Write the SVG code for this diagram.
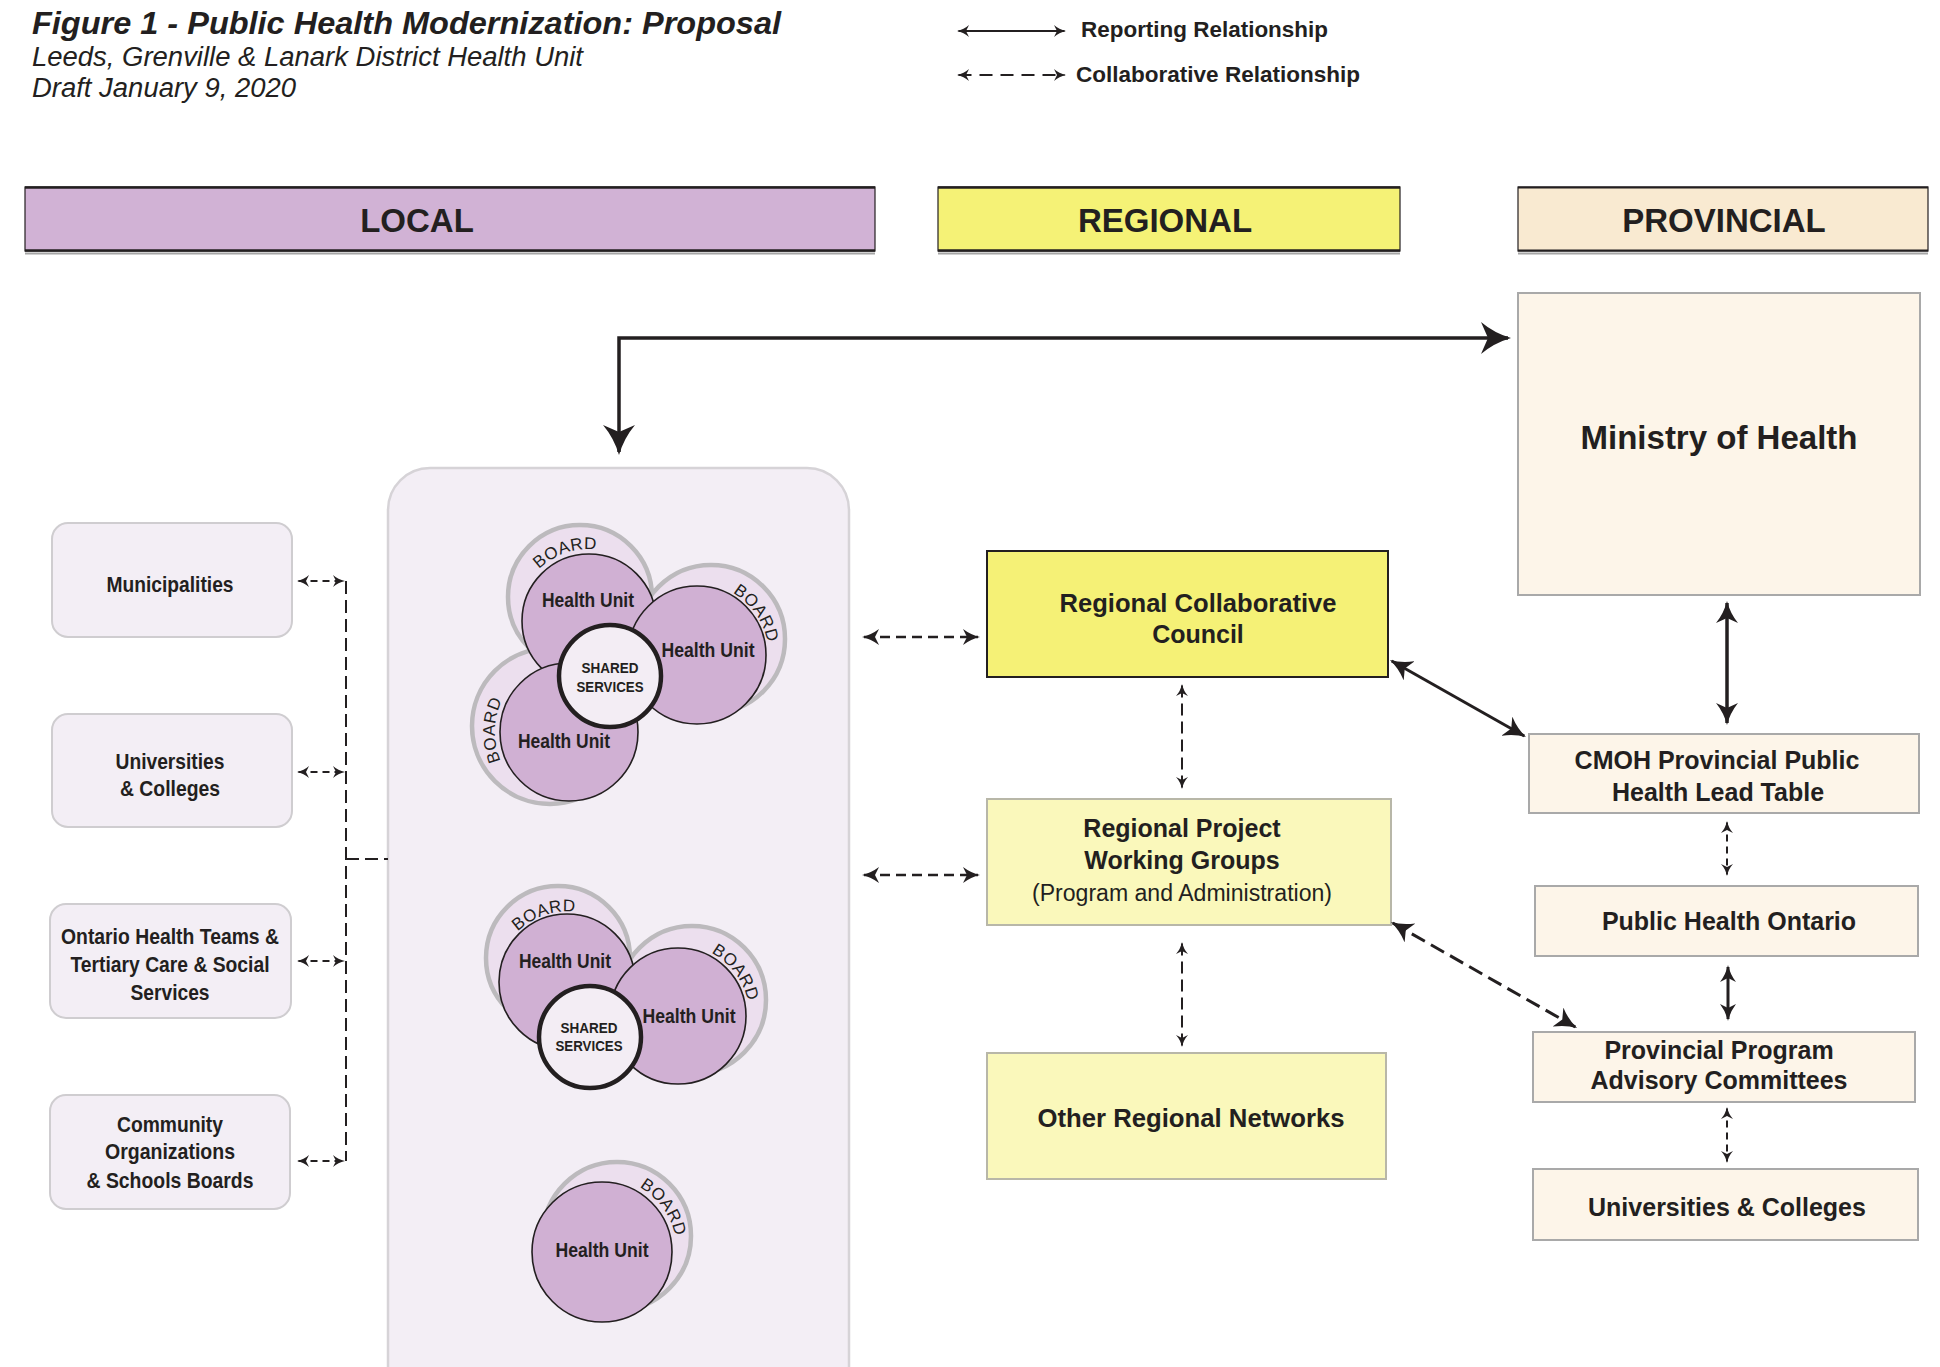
<svg xmlns="http://www.w3.org/2000/svg" width="1940" height="1367" viewBox="0 0 1940 1367">
<style>
text{font-family:"Liberation Sans",Arial,sans-serif;fill:#231f20}
.hdr{font-size:33px;font-weight:bold;text-anchor:middle}
.lbox{fill:#f3eef5;stroke:#cfcdd0;stroke-width:2}
.lt{font-size:22px;font-weight:bold;text-anchor:middle}
.hu{fill:#d0b0d3;stroke:#231f20;stroke-width:1.6}
.bd{fill:#ecdfee;stroke:#bcbabd;stroke-width:4.5}
.ss{fill:#f3edf4;stroke:#231f20;stroke-width:4.5}
.hut{font-size:20px;font-weight:bold;text-anchor:middle}
.sst{font-size:15px;font-weight:bold;text-anchor:middle}
.bdt{font-size:17px;letter-spacing:0.5px}
.pv{fill:#fdf5e9;stroke:#a9a9a9;stroke-width:2}
.pt{font-size:25px;font-weight:bold;text-anchor:middle}
.rg{fill:#faf8bb;stroke:#b8b7a8;stroke-width:2}
.rt{font-size:25px;font-weight:bold;text-anchor:middle}
.ln{fill:none;stroke:#231f20}
.d1{stroke-dasharray:7 5}
.d2{stroke-dasharray:12 6}
.d3{stroke-dasharray:15 7}
.d4{stroke-dasharray:10 6}
</style>
<defs>
<marker id="big" markerUnits="userSpaceOnUse" markerWidth="32" markerHeight="32" refX="27" refY="16" orient="auto-start-reverse"><path d="M0,0 Q13,11 30,16 Q13,21 0,32 L7,16 Z" fill="#231f20"/></marker>
<marker id="lg" markerUnits="userSpaceOnUse" markerWidth="22" markerHeight="22" refX="20" refY="11" orient="auto-start-reverse"><path d="M0,0 Q10,8 22,11 Q10,14 0,22 L5,11 Z" fill="#231f20"/></marker>
<marker id="md" markerUnits="userSpaceOnUse" markerWidth="17" markerHeight="16" refX="15" refY="8" orient="auto-start-reverse"><path d="M0,0 Q8,6 17,8 Q8,10 0,16 L4,8 Z" fill="#231f20"/></marker>
<marker id="sm" markerUnits="userSpaceOnUse" markerWidth="12" markerHeight="12" refX="10.5" refY="6" orient="auto-start-reverse"><path d="M0,0 Q5,4.5 12,6 Q5,7.5 0,12 L3,6 Z" fill="#231f20"/></marker>
<path id="ap1" d="M520.9,644.4 A72,72 0 0 1 657.1,597.6"/>
<path id="ap2" d="M654.6,594.4 A74,74 0 0 1 739.4,715.6"/>
<path id="ap3" d="M567.1,806 A74,74 0 0 1 570.9,658"/>
<path id="ap4" d="M497.9,1005.4 A73,73 0 0 1 636.1,958.6"/>
<path id="ap5" d="M634.1,957.7 A73,73 0 0 1 721.9,1074.3"/>
<path id="ap6" d="M557.9,1191.3 A75,75 0 0 1 646.1,1312.7"/>
</defs>
<rect width="1940" height="1367" fill="#ffffff"/>

<g id="title">
<text x="32" y="34" font-size="31.5" font-weight="bold" font-style="italic" textLength="749" lengthAdjust="spacingAndGlyphs">Figure 1 - Public Health Modernization: Proposal</text>
<text x="32" y="66" font-size="27" font-style="italic" textLength="551" lengthAdjust="spacingAndGlyphs">Leeds, Grenville &amp; Lanark District Health Unit</text>
<text x="32" y="97" font-size="27" font-style="italic" textLength="264" lengthAdjust="spacingAndGlyphs">Draft January 9, 2020</text>
</g>

<g id="legend">
<path class="ln" d="M958.5,31 H1064.5" stroke-width="2" marker-start="url(#sm)" marker-end="url(#sm)"/>
<path class="ln" d="M958.5,75 H1064.5" stroke-width="2" stroke-dasharray="13 8" marker-start="url(#sm)" marker-end="url(#sm)"/>
<text x="1081" y="37" font-size="22" font-weight="bold" textLength="247" lengthAdjust="spacingAndGlyphs">Reporting Relationship</text>
<text x="1076" y="82" font-size="22.5" font-weight="bold" textLength="284" lengthAdjust="spacingAndGlyphs">Collaborative Relationship</text>
</g>

<g id="header-local">
<rect x="25" y="187" width="850" height="64" fill="#d1b2d5" stroke="#231f20" stroke-width="1.2"/>
<line x1="25" y1="187.5" x2="875" y2="187.5" stroke="#231f20" stroke-width="2.5"/>
<line x1="25" y1="250.5" x2="875" y2="250.5" stroke="#231f20" stroke-width="2.5"/>
<line x1="25" y1="253.5" x2="875" y2="253.5" stroke="#a5a5a5" stroke-width="2"/>
<text class="hdr" x="417" y="232">LOCAL</text>
</g>
<g id="header-regional">
<rect x="938" y="187" width="462" height="64" fill="#f5f276" stroke="#231f20" stroke-width="1.2"/>
<line x1="938" y1="187.5" x2="1400" y2="187.5" stroke="#231f20" stroke-width="2.5"/>
<line x1="938" y1="250.5" x2="1400" y2="250.5" stroke="#231f20" stroke-width="2.5"/>
<line x1="938" y1="253.5" x2="1400" y2="253.5" stroke="#a5a5a5" stroke-width="2"/>
<text class="hdr" x="1165" y="232">REGIONAL</text>
</g>
<g id="header-provincial">
<rect x="1518" y="187" width="410" height="64" fill="#f9ead1" stroke="#231f20" stroke-width="1.2"/>
<line x1="1518" y1="187.5" x2="1928" y2="187.5" stroke="#231f20" stroke-width="2"/>
<line x1="1518" y1="250.5" x2="1928" y2="250.5" stroke="#231f20" stroke-width="2"/>
<line x1="1518" y1="253.5" x2="1928" y2="253.5" stroke="#a5a5a5" stroke-width="2"/>
<text class="hdr" x="1724" y="232">PROVINCIAL</text>
</g>

<g id="local-container">
<rect x="388" y="468" width="461" height="960" rx="42" fill="#f3eef5" stroke="#d6d3d7" stroke-width="2.5"/>
</g>

<g id="municipalities">
<rect class="lbox" x="52" y="523" width="240" height="114" rx="16"/>
<text class="lt" x="170" y="592" textLength="127" lengthAdjust="spacingAndGlyphs">Municipalities</text>
</g>
<g id="universities-local">
<rect class="lbox" x="52" y="714" width="240" height="113" rx="16"/>
<text class="lt" x="170" y="769" textLength="109" lengthAdjust="spacingAndGlyphs">Universities</text>
<text class="lt" x="170" y="796" textLength="100" lengthAdjust="spacingAndGlyphs">&amp; Colleges</text>
</g>
<g id="ontario-health-teams">
<rect class="lbox" x="50" y="904" width="241" height="114" rx="16"/>
<text class="lt" x="170" y="944" textLength="218" lengthAdjust="spacingAndGlyphs">Ontario Health Teams &amp;</text>
<text class="lt" x="170" y="972" textLength="199" lengthAdjust="spacingAndGlyphs">Tertiary Care &amp; Social</text>
<text class="lt" x="170" y="1000" textLength="79" lengthAdjust="spacingAndGlyphs">Services</text>
</g>
<g id="community-orgs">
<rect class="lbox" x="50" y="1095" width="240" height="114" rx="16"/>
<text class="lt" x="170" y="1132" textLength="106" lengthAdjust="spacingAndGlyphs">Community</text>
<text class="lt" x="170" y="1159" textLength="130" lengthAdjust="spacingAndGlyphs">Organizations</text>
<text class="lt" x="170" y="1188" textLength="167" lengthAdjust="spacingAndGlyphs">&amp; Schools Boards</text>
</g>

<g id="cluster-three">
<circle class="bd" cx="580" cy="597" r="72"/>
<circle class="bd" cx="711" cy="639" r="74"/>
<circle class="bd" cx="550" cy="726" r="78"/>
<circle class="hu" cx="589" cy="621" r="67"/>
<circle class="hu" cx="697" cy="655" r="69"/>
<circle class="hu" cx="569" cy="732" r="69"/>
<text class="bdt"><textPath href="#ap1" startOffset="50%" text-anchor="middle">BOARD</textPath></text>
<text class="bdt"><textPath href="#ap2" startOffset="50%" text-anchor="middle">BOARD</textPath></text>
<text class="bdt"><textPath href="#ap3" startOffset="50%" text-anchor="middle">BOARD</textPath></text>
<circle class="ss" cx="610" cy="676" r="51"/>
<text class="hut" x="588" y="607" textLength="92" lengthAdjust="spacingAndGlyphs">Health Unit</text>
<text class="hut" x="708" y="657" textLength="93" lengthAdjust="spacingAndGlyphs">Health Unit</text>
<text class="hut" x="564" y="748" textLength="92" lengthAdjust="spacingAndGlyphs">Health Unit</text>
<text class="sst" x="610" y="673" textLength="57" lengthAdjust="spacingAndGlyphs">SHARED</text>
<text class="sst" x="610" y="692" textLength="67" lengthAdjust="spacingAndGlyphs">SERVICES</text>
</g>

<g id="cluster-two">
<circle class="bd" cx="558" cy="958" r="72"/>
<circle class="bd" cx="692" cy="1000" r="74"/>
<circle class="hu" cx="567" cy="982" r="68"/>
<circle class="hu" cx="678" cy="1016" r="68"/>
<text class="bdt"><textPath href="#ap4" startOffset="50%" text-anchor="middle">BOARD</textPath></text>
<text class="bdt"><textPath href="#ap5" startOffset="50%" text-anchor="middle">BOARD</textPath></text>
<circle class="ss" cx="590" cy="1037" r="51"/>
<text class="hut" x="565" y="968" textLength="92" lengthAdjust="spacingAndGlyphs">Health Unit</text>
<text class="hut" x="689" y="1023" textLength="93" lengthAdjust="spacingAndGlyphs">Health Unit</text>
<text class="sst" x="589" y="1033" textLength="57" lengthAdjust="spacingAndGlyphs">SHARED</text>
<text class="sst" x="589" y="1051" textLength="67" lengthAdjust="spacingAndGlyphs">SERVICES</text>
</g>

<g id="cluster-single">
<circle class="bd" cx="617" cy="1236" r="74"/>
<circle class="hu" cx="602" cy="1252" r="70"/>
<text class="bdt"><textPath href="#ap6" startOffset="50%" text-anchor="middle">BOARD</textPath></text>
<text class="hut" x="602" y="1257" textLength="93" lengthAdjust="spacingAndGlyphs">Health Unit</text>
</g>

<g id="regional-council">
<rect x="987" y="551" width="401" height="126" fill="#f5f176" stroke="#231f20" stroke-width="2"/>
<text class="rt" x="1198" y="612" font-size="25.5" textLength="277" lengthAdjust="spacingAndGlyphs">Regional Collaborative</text>
<text class="rt" x="1198" y="643" font-size="25.5">Council</text>
</g>
<g id="regional-working-groups">
<rect class="rg" x="987" y="799" width="404" height="126"/>
<text class="rt" x="1182" y="837">Regional Project</text>
<text class="rt" x="1182" y="869">Working Groups</text>
<text x="1182" y="901" font-size="23" text-anchor="middle" textLength="300" lengthAdjust="spacingAndGlyphs">(Program and Administration)</text>
</g>
<g id="other-regional-networks">
<rect class="rg" x="987" y="1053" width="399" height="126"/>
<text class="rt" x="1191" y="1127" font-size="26" textLength="307" lengthAdjust="spacingAndGlyphs">Other Regional Networks</text>
</g>

<g id="ministry">
<rect class="pv" x="1518" y="293" width="402" height="302"/>
<text x="1719" y="449" font-size="33" font-weight="bold" text-anchor="middle" textLength="277" lengthAdjust="spacingAndGlyphs">Ministry of Health</text>
</g>
<g id="cmoh">
<rect class="pv" x="1529" y="734" width="390" height="79"/>
<text class="pt" x="1717" y="769">CMOH Provincial Public</text>
<text class="pt" x="1718" y="801">Health Lead Table</text>
</g>
<g id="public-health-ontario">
<rect class="pv" x="1535" y="886" width="383" height="70"/>
<text class="pt" x="1729" y="930">Public Health Ontario</text>
</g>
<g id="program-advisory">
<rect class="pv" x="1533" y="1032" width="382" height="70"/>
<text class="pt" x="1719" y="1059">Provincial Program</text>
<text class="pt" x="1719" y="1089">Advisory Committees</text>
</g>
<g id="universities-provincial">
<rect class="pv" x="1533" y="1169" width="385" height="71"/>
<text class="pt" x="1727" y="1216">Universities &amp; Colleges</text>
</g>

<g id="connectors" class="ln">
<path d="M619,452 V338 H1508" stroke-width="3.5" marker-start="url(#big)" marker-end="url(#big)"/>
<path class="d1" d="M298.5,581 H343.5" stroke-width="2" marker-start="url(#sm)" marker-end="url(#sm)"/>
<path class="d1" d="M298.5,772 H343.5" stroke-width="2" marker-start="url(#sm)" marker-end="url(#sm)"/>
<path class="d1" d="M298.5,961 H343.5" stroke-width="2" marker-start="url(#sm)" marker-end="url(#sm)"/>
<path class="d1" d="M298.5,1161 H343.5" stroke-width="2" marker-start="url(#sm)" marker-end="url(#sm)"/>
<path d="M346,581 V1161" stroke-width="2" stroke-dasharray="13 6"/>
<path d="M346,859 H388" stroke-width="2" stroke-dasharray="13 6"/>
<path class="d4" d="M864,637 H978" stroke-width="2.5" marker-start="url(#md)" marker-end="url(#md)"/>
<path class="d4" d="M864,875 H978" stroke-width="2.5" marker-start="url(#md)" marker-end="url(#md)"/>
<path class="d2" d="M1182,685.5 V787.5" stroke-width="2" marker-start="url(#sm)" marker-end="url(#sm)"/>
<path class="d2" d="M1182,943.5 V1045.5" stroke-width="2" marker-start="url(#sm)" marker-end="url(#sm)"/>
<path d="M1391.7,661 L1524.3,736" stroke-width="3" marker-start="url(#lg)" marker-end="url(#lg)"/>
<path class="d3" d="M1392.7,923 L1575.3,1027" stroke-width="3" marker-start="url(#lg)" marker-end="url(#lg)"/>
<path d="M1727,603 V723" stroke-width="3.5" marker-start="url(#lg)" marker-end="url(#lg)"/>
<path class="d1" d="M1727,822.5 V874.5" stroke-width="2" marker-start="url(#sm)" marker-end="url(#sm)"/>
<path d="M1728,967 V1019" stroke-width="3" marker-start="url(#md)" marker-end="url(#md)"/>
<path class="d1" d="M1727,1108.5 V1161.5" stroke-width="2" marker-start="url(#sm)" marker-end="url(#sm)"/>
</g>
</svg>
